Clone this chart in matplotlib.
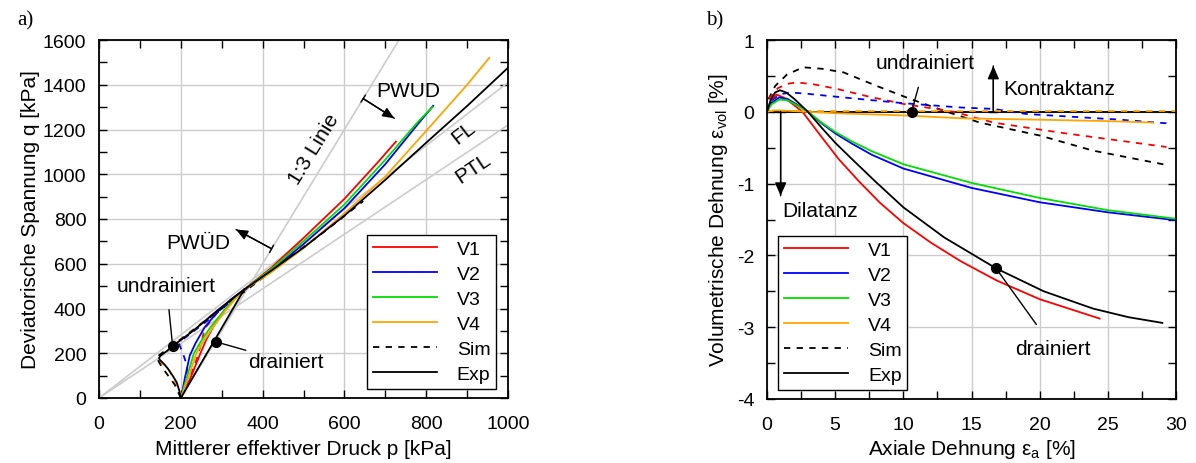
import numpy as np
import matplotlib
matplotlib.use("Agg")
import matplotlib.pyplot as plt
from matplotlib.ticker import MultipleLocator

plt.rcParams['font.family'] = ['Liberation Sans', 'DejaVu Sans']
plt.rcParams['mathtext.fontset'] = 'custom'
plt.rcParams['mathtext.rm'] = 'Liberation Sans'
plt.rcParams['axes.unicode_minus'] = False

# ---------- a) p-q Diagramm ----------
p_v1 = [200, 214, 226, 237, 248, 262, 280, 306, 330, 353, 420, 500, 600, 680, 726]
q_v1 = [0, 50, 100, 150, 200, 260, 320, 390, 440, 482, 580, 715, 890, 1050, 1146]
p_v2 = [200, 205, 210, 216, 222, 236, 258, 290, 322, 353, 420, 500, 600, 700, 780, 817]
q_v2 = [0, 40, 90, 140, 190, 245, 315, 385, 440, 482, 568, 688, 848, 1045, 1225, 1306]
p_v3 = [200, 208, 216, 224, 232, 250, 272, 303, 330, 353, 420, 500, 600, 700, 780, 815]
q_v3 = [0, 50, 100, 150, 200, 255, 315, 385, 440, 482, 575, 700, 865, 1065, 1235, 1300]
p_v4 = [200, 210, 220, 229, 238, 256, 278, 307, 332, 353, 420, 500, 600, 700, 800, 900, 954]
q_v4 = [0, 50, 100, 150, 200, 255, 315, 385, 440, 482, 560, 670, 825, 990, 1194, 1400, 1520]
p_exp_dr = [200, 355]
q_exp_dr = [0, 485]
p_exp_ud = [200, 196, 190, 180, 169, 160, 153, 148, 147, 150, 157, 166, 180, 230, 290, 353, 420, 500, 600, 700, 800, 900, 1000, 1020]
q_exp_ud = [0, 35, 70, 100, 130, 150, 163, 172, 180, 189, 198, 210, 232, 300, 392, 482, 568, 672, 815, 975, 1141, 1305, 1476, 1510]
p_sim_k = [200, 185, 165, 150, 140, 200, 280, 353, 450, 550, 646]
q_sim_k = [0, 60, 110, 150, 182, 262, 372, 472, 605, 742, 880]
p_sim_o = [200, 195, 185, 168, 150, 142, 160, 220, 300, 353, 420, 510]
q_sim_o = [0, 40, 75, 135, 160, 180, 208, 292, 405, 476, 566, 700]
p_sim_b = [200, 212, 216, 206, 196, 205, 260, 353, 400]
q_sim_b = [0, 70, 140, 195, 240, 262, 338, 478, 540]
p_sim_r = [200, 222, 240, 252, 258, 300, 353]
q_sim_r = [0, 90, 180, 260, 310, 405, 478]

p_ref = [0, 1000]
m_fl = 1.41
m_ptl = 1.22
p_13 = [200, 733]

# ---------- b) Volumendehnung ----------
ea_v1 = [0, 0.3, 0.7, 1.2, 1.8, 2.6, 4, 5.26, 6.8, 8.3, 10, 12, 14.2, 16.85, 20, 24.4]
ev_v1 = [0, 0.17, 0.24, 0.2, 0.12, 0, -0.35, -0.66, -0.98, -1.27, -1.55, -1.82, -2.08, -2.35, -2.61, -2.88]
ea_v2 = [0, 0.3, 0.9, 1.5, 2.2, 3.0, 4, 5, 6.2, 7.7, 10, 15, 20, 25, 30]
ev_v2 = [0, 0.12, 0.2, 0.18, 0.1, 0, -0.16, -0.3, -0.44, -0.6, -0.79, -1.06, -1.26, -1.40, -1.51]
ea_v3 = [0, 0.3, 0.9, 1.5, 2.2, 3.0, 4, 5, 6.2, 7.7, 10, 15, 20, 25, 30]
ev_v3 = [0, 0.1, 0.17, 0.16, 0.09, 0, -0.15, -0.28, -0.41, -0.55, -0.73, -0.99, -1.2, -1.37, -1.49]
ea_v4 = [0, 0.5, 1, 3, 5, 10, 14.2, 20, 25, 28.3]
ev_v4 = [0, 0.02, 0.02, 0, -0.02, -0.05, -0.09, -0.11, -0.13, -0.15]
ea_exp = [0, 0.3, 0.6, 0.95, 1.4, 2.0, 3.0, 4.0, 5.0, 6.24, 8.0, 10, 13, 16.8, 20.3, 23.9, 26.5, 29]
ev_exp = [0, 0.18, 0.27, 0.30, 0.27, 0.18, 0, -0.22, -0.43, -0.66, -0.98, -1.33, -1.75, -2.18, -2.5, -2.74, -2.86, -2.94]
ea_exp_ud = [0, 30]
ev_exp_ud = [0, 0]
ea_sim_k = [0, 0.12, 0.6, 1.47, 2.66, 4, 5.6, 8.05, 10.5, 13.2, 15.6, 20, 23.9, 29.3]
ev_sim_k = [0, 0.18, 0.36, 0.52, 0.62, 0.6, 0.55, 0.36, 0.18, 0, -0.15, -0.33, -0.54, -0.74]
ea_sim_r = [0, 0.2, 0.8, 1.5, 2.2, 3.5, 5.1, 7.5, 10, 13.7, 16.6, 21.5, 25, 29.3]
ev_sim_r = [0, 0.2, 0.33, 0.39, 0.41, 0.38, 0.32, 0.21, 0.11, 0, -0.15, -0.29, -0.38, -0.49]
ea_sim_b = [0, 0.3, 0.9, 1.7, 3, 5.6, 10, 14.2, 16.6, 19, 25.9, 29.3]
ev_sim_b = [0, 0.15, 0.24, 0.27, 0.25, 0.2, 0.12, 0.06, 0.04, -0.03, -0.11, -0.16]
ea_sim_o = [0, 30]
ev_sim_o = [0.01, 0.01]

RED, BLUE, GREEN, ORANGE = '#ff0000', '#0000ff', '#00dd00', '#ffa500'
GRID = '#cccccc'
LW = 1.3
DASH = (0, (3.5, 3.5))
FS = 15

fig = plt.figure(figsize=(11.96, 4.64), dpi=100)
ax1 = fig.add_axes([99/1196, 65/464, 409/1196, 358/464])
ax2 = fig.add_axes([767/1196, 64/464, 409/1196, 359/464])


def style(ax):
    ax.grid(True, which='major', color=GRID, lw=1.0)
    ax.set_axisbelow(True)
    ax.tick_params(which='both', direction='in', top=True, right=True, labelsize=14)
    ax.tick_params(which='both', length=6, width=1)
    ax.tick_params(axis='x', which='both', pad=12)
    ax.tick_params(axis='y', which='both', pad=9)
    for s in ax.spines.values():
        s.set_linewidth(1.3)


# --- a)
pr = np.array(p_ref)
ax1.plot(pr, m_fl * pr, color=GRID, lw=1.2)
ax1.plot(pr, m_ptl * pr, color=GRID, lw=1.2)
p13 = np.array(p_13)
ax1.plot(p13, 3 * (p13 - 200), color=GRID, lw=1.2)

ax1.plot(p_sim_o, q_sim_o, color=ORANGE, lw=LW, ls=DASH)
ax1.plot(p_sim_b, q_sim_b, color=BLUE, lw=LW, ls=DASH)
ax1.plot(p_sim_r, q_sim_r, color=RED, lw=LW, ls=DASH)
ax1.plot(p_sim_k, q_sim_k, color='k', lw=LW, ls=DASH)
ax1.plot(p_v1, q_v1, color=RED, lw=LW, label='V1')
ax1.plot(p_v2, q_v2, color=BLUE, lw=LW, label='V2')
ax1.plot(p_v3, q_v3, color=GREEN, lw=LW, label='V3')
ax1.plot(p_v4, q_v4, color=ORANGE, lw=LW, label='V4')
ax1.plot([], [], color='k', lw=LW, ls=DASH, label='Sim')
ax1.plot(p_exp_ud, q_exp_ud, color='k', lw=LW, label='Exp')
ax1.plot(p_exp_dr, q_exp_dr, color='k', lw=LW)

ax1.set_xlim(0, 1000)
ax1.set_ylim(0, 1600)
ax1.xaxis.set_major_locator(MultipleLocator(200))
ax1.xaxis.set_minor_locator(MultipleLocator(100))
ax1.yaxis.set_major_locator(MultipleLocator(200))
ax1.yaxis.set_minor_locator(MultipleLocator(100))
style(ax1)
ax1.set_xlabel('Mittlerer effektiver Druck p [kPa]', fontsize=FS, labelpad=5)
ax1.set_ylabel('Deviatorische Spannung q [kPa]', fontsize=FS, labelpad=2)

ax1.legend(loc='lower right', bbox_to_anchor=(0.971, 0.025), fontsize=14, frameon=True,
           fancybox=False, edgecolor='k', framealpha=1, handlelength=3.3,
           borderpad=0.3, labelspacing=0.38, handletextpad=1.0, borderaxespad=0)

ax1.plot([180], [232], 'o', color='k', ms=7)
ax1.plot([286], [251], 'o', color='k', ms=7)
ax1.annotate('undrainiert', xy=(180, 232), xytext=(165, 505), fontsize=FS,
             ha='center', va='center',
             arrowprops=dict(arrowstyle='-', color='k', lw=1, shrinkA=9, shrinkB=0))
ax1.annotate('drainiert', xy=(286, 251), xytext=(458, 162), fontsize=FS,
             ha='center', va='center',
             arrowprops=dict(arrowstyle='-', color='k', lw=1, shrinkA=50, shrinkB=0))
ax1.text(525, 1115, '1:3 Linie', fontsize=FS, rotation=58.5, ha='center', va='center')
ax1.text(890, 1190, 'FL', fontsize=FS, rotation=38, ha='center', va='center')
ax1.text(915, 1030, 'PTL', fontsize=FS, rotation=34, ha='center', va='center')
ax1.text(756, 1375, 'PWUD', fontsize=FS, ha='center', va='center')
ax1.text(242, 697, 'PWÜD', fontsize=FS, ha='center', va='center')
for start, end in [((646, 1338), (722, 1250)), ((422, 667), (335, 753))]:
    ax1.annotate('', xy=end, xytext=start,
                 arrowprops=dict(arrowstyle='-|>,head_length=0.7,head_width=0.3', color='k',
                                 lw=1, shrinkA=0, shrinkB=0))
    ax1.annotate('', xy=end, xytext=start,
                 arrowprops=dict(arrowstyle=']-,widthA=0.3,lengthA=0', color='k',
                                 lw=1, shrinkA=0, shrinkB=0))

# --- b)
ax2.plot(ea_exp_ud, ev_exp_ud, color='k', lw=LW)
ax2.plot(ea_sim_k, ev_sim_k, color='k', lw=LW, ls=DASH)
ax2.plot(ea_sim_r, ev_sim_r, color=RED, lw=LW, ls=DASH)
ax2.plot(ea_sim_b, ev_sim_b, color=BLUE, lw=LW, ls=DASH)
ax2.plot(ea_sim_o, ev_sim_o, color=ORANGE, lw=LW, ls=DASH)
ax2.plot(ea_v1, ev_v1, color=RED, lw=LW, label='V1')
ax2.plot(ea_v2, ev_v2, color=BLUE, lw=LW, label='V2')
ax2.plot(ea_v3, ev_v3, color=GREEN, lw=LW, label='V3')
ax2.plot(ea_v4, ev_v4, color=ORANGE, lw=LW, label='V4')
ax2.plot([], [], color='k', lw=LW, ls=DASH, label='Sim')
ax2.plot(ea_exp, ev_exp, color='k', lw=LW, label='Exp')

ax2.set_xlim(0, 30)
ax2.set_ylim(-4, 1)
ax2.xaxis.set_major_locator(MultipleLocator(5))
ax2.xaxis.set_minor_locator(MultipleLocator(2.5))
ax2.yaxis.set_major_locator(MultipleLocator(1))
ax2.yaxis.set_minor_locator(MultipleLocator(0.5))
style(ax2)
ax2.set_xlabel('Axiale Dehnung ε$_\\mathregular{a}$ [%]', fontsize=FS, labelpad=3)
ax2.set_ylabel('Volumetrische Dehnung ε$_\\mathregular{vol}$ [%]', fontsize=FS, labelpad=5)

ax2.legend(loc='lower left', bbox_to_anchor=(0.028, 0.025), fontsize=14, frameon=True,
           fancybox=False, edgecolor='k', framealpha=1, handlelength=3.3,
           borderpad=0.3, labelspacing=0.38, handletextpad=1.0, borderaxespad=0)

ax2.plot([10.6], [0], 'o', color='k', ms=7)
ax2.plot([16.8], [-2.18], 'o', color='k', ms=7)
ax2.annotate('undrainiert', xy=(10.6, 0), xytext=(11.6, 0.68), fontsize=FS,
             ha='center', va='center',
             arrowprops=dict(arrowstyle='-', color='k', lw=1, shrinkA=9, shrinkB=0))
ax2.annotate('drainiert', xy=(16.8, -2.18), xytext=(21.0, -3.29), fontsize=FS,
             ha='center', va='center',
             arrowprops=dict(arrowstyle='-', color='k', lw=1, shrinkA=10, shrinkB=0))
for start, end in [((16.6, 0), (16.6, 0.64)), ((1.0, 0), (1.0, -1.17))]:
    ax2.annotate('', xy=end, xytext=start,
                 arrowprops=dict(arrowstyle='-|>,head_length=0.8,head_width=0.35', color='k',
                                 lw=1, shrinkA=0, shrinkB=0))
    ax2.annotate('', xy=end, xytext=start,
                 arrowprops=dict(arrowstyle=']-,widthA=0.3,lengthA=0', color='k',
                                 lw=1, shrinkA=0, shrinkB=0))
ax2.text(17.3, 0.33, 'Kontraktanz', fontsize=FS, ha='left', va='center')
ax2.text(1.1, -1.38, 'Dilatanz', fontsize=FS, ha='left', va='center')

fig.text(17/1196, 1 - 21/464, 'a)', fontsize=15, family='Liberation Serif', ha='left', va='center')
fig.text(706/1196, 1 - 21/464, 'b)', fontsize=15, family='Liberation Serif', ha='left', va='center')

fig.savefig('out.png', dpi=100)
